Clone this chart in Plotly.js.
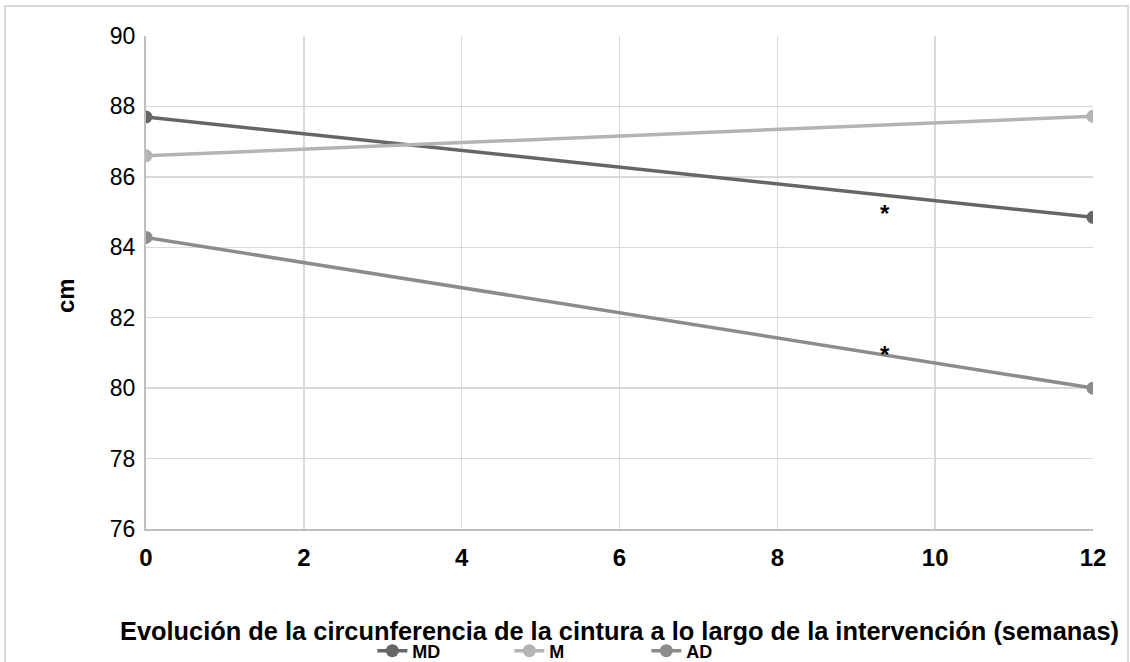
<!DOCTYPE html>
<html>
<head>
<meta charset="utf-8">
<script src="https://cdn.plot.ly/plotly-3.0.1.min.js"></script>
<style>html,body{margin:0;padding:0;background:#fff;} #chart{width:1130px;height:662px;}</style>
</head>
<body>
<div id="chart"></div>
<script>
const weeks = [0, 12];
const seriesNames = ["MD", "M", "AD"];
const MD = [87.7, 84.85];
const M = [86.6, 87.72];
const AD = [84.28, 80.0];
const colors = ["#666666", "#b4b4b4", "#8c8c8c"];
const starX = [9.37, 9.37];
const starY = [84.95, 80.95];
const xTicks = [0, 2, 4, 6, 8, 10, 12];
const yTicks = [76, 78, 80, 82, 84, 86, 88, 90];

const font = "Liberation Sans, Arial, sans-serif";
const values = [MD, M, AD];
const traces = values.map((v, i) => ({
  x: weeks, y: v, name: seriesNames[i], type: "scatter", mode: "lines+markers",
  line: {color: colors[i], width: 3.5},
  marker: {color: colors[i], size: 13}
}));

const annotations = starX.map((x, i) => ({x: x, y: starY[i], xref: "x", yref: "y", text: "*",
  showarrow: false, font: {family: font, size: 24, color: "#000", weight: "bold"}}));
annotations.push({x: -0.0855, y: 0.4726, xref: "paper", yref: "paper", text: "cm", textangle: -90,
  showarrow: false, xanchor: "center", yanchor: "middle",
  font: {family: font, size: 24, color: "#000", weight: "bold"}});

const layout = {
  width: 1130, height: 662,
  margin: {l: 146, r: 37, t: 36, b: 133, autoexpand: false},
  paper_bgcolor: "#fff", plot_bgcolor: "#fff",
  showlegend: true,
  legend: {orientation: "h", x: 0.239, xanchor: "left", y: -0.2475, yanchor: "middle",
    font: {family: font, size: 18, color: "#000", weight: "bold"},
    entrywidth: 92, entrywidthmode: "pixels", itemwidth: 30, tracegroupgap: 0,
    bgcolor: "rgba(0,0,0,0)"},
  xaxis: {range: [0, 12], tickvals: xTicks, ticktext: xTicks.map(String),
    showgrid: true, gridcolor: "#d9d9d9", gridwidth: 1.5, automargin: false,
    showline: true, linecolor: "#bfbfbf", linewidth: 2, zeroline: false, ticks: "",
    ticklabelstandoff: 6,
    tickfont: {family: font, size: 24, color: "#000", weight: "bold"},
    title: {text: "Evolución de la circunferencia de la cintura a lo largo de la intervención (semanas)",
      font: {family: font, size: 25.4, color: "#000", weight: "bold"}, standoff: 52},
    fixedrange: true},
  yaxis: {range: [76, 90], tickvals: yTicks, ticktext: yTicks.map(String),
    showgrid: true, gridcolor: "#d9d9d9", gridwidth: 1.5, automargin: false,
    showline: true, linecolor: "#bfbfbf", linewidth: 2, zeroline: false, ticks: "",
    ticklabelstandoff: 4,
    tickfont: {family: font, size: 23, color: "#000"},
    fixedrange: true},
  annotations: annotations,
  shapes: [{type: "rect", xref: "paper", yref: "paper", x0: -0.1489, x1: 1.037, y0: -0.4, y1: 1.0609,
    line: {color: "#d9d9d9", width: 2}, fillcolor: "rgba(0,0,0,0)", layer: "below"}]
};
Plotly.newPlot("chart", traces, layout, {displayModeBar: false, staticPlot: true});
</script>
</body>
</html>
